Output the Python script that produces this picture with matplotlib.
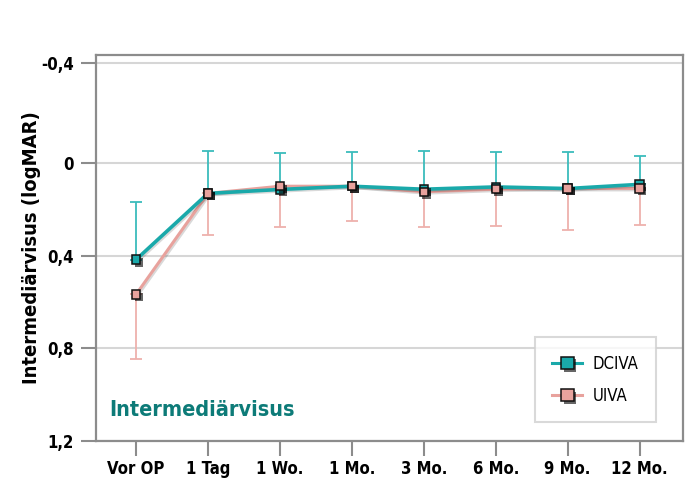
import matplotlib
matplotlib.use("Agg")
import matplotlib.pyplot as plt
import matplotlib.patheffects as pe
from matplotlib.lines import Line2D
import numpy as np

plt.rcParams['font.family'] = ['DejaVu Sans']
plt.rcParams['font.stretch'] = 'condensed'

# data (logMAR)
timepoints = ['Vor OP', '1 Tag', '1 Wo.', '1 Mo.', '3 Mo.', '6 Mo.', '9 Mo.', '12 Mo.']
dciva_mean = [0.417, 0.131, 0.114, 0.100, 0.113, 0.103, 0.110, 0.092]
dciva_sd = [0.250, 0.180, 0.156, 0.146, 0.162, 0.149, 0.156, 0.122]
uiva_mean = [0.567, 0.131, 0.100, 0.100, 0.124, 0.113, 0.110, 0.110]
uiva_sd = [0.277, 0.181, 0.176, 0.151, 0.154, 0.158, 0.179, 0.158]
yticks = [-0.4, 0, 0.4, 0.8, 1.2]
ytick_labels = ['-0,4', '0', '0,4', '0,8', '1,2']

teal = '#1aa9aa'
teal_err = '#3bbcbc'
pink = '#e8a29d'
pink_err = '#eeb1ad'
grey = '#8c8c8c'

x = np.arange(len(timepoints))
zeros = np.zeros(len(x))

fig = plt.figure(figsize=(6.91, 5.0), dpi=100)
ax = fig.add_axes([0.139, 0.118, 0.849, 0.772])

# the original axis spaces the negative part a little wider
k = 1.075
ax.set_yscale('function', functions=(lambda v: np.where(v < 0, v * k, v),
                                     lambda t: np.where(t < 0, t / k, t)))

# error bars: DCIVA upward, UIVA downward
ax.errorbar(x, dciva_mean, yerr=[dciva_sd, zeros], fmt='none', ecolor=teal_err,
            elinewidth=1.3, capsize=4.5, capthick=1.3, zorder=2)
ax.errorbar(x, uiva_mean, yerr=[zeros, uiva_sd], fmt='none', ecolor=pink_err,
            elinewidth=1.3, capsize=4.5, capthick=1.3, zorder=2)

line_shadow = [pe.SimpleLineShadow(offset=(1, -1), shadow_color='k', alpha=0.15), pe.Normal()]
mark_shadow = [pe.SimplePatchShadow(offset=(2, -2), shadow_rgbFace='k', alpha=0.6), pe.Normal()]

ax.plot(x, uiva_mean, color=pink, lw=2.2, zorder=3, path_effects=line_shadow)
ax.plot(x, dciva_mean, color=teal, lw=2.6, zorder=4, path_effects=line_shadow)
ax.plot(x, dciva_mean, ls='none', marker='s', ms=6, mfc=teal, mec='#111111', mew=1.1,
        zorder=5, path_effects=mark_shadow)
ax.plot(x, uiva_mean, ls='none', marker='s', ms=6, mfc=pink, mec='#111111', mew=1.1,
        zorder=6, path_effects=mark_shadow)

ax.set_xlim(-0.556, 7.6)
ax.set_ylim(1.2, -0.434)
ax.set_xticks(x)
ax.set_xticklabels(timepoints, fontsize=12, fontweight='bold')
ax.set_yticks(yticks)
ax.set_yticklabels(ytick_labels, fontsize=12, fontweight='bold')
ax.tick_params(axis='both', color=grey, width=1.5, length=11, pad=5)
ax.tick_params(axis='x', pad=3)

ax.grid(axis='y', color='#d6d6d6', lw=1.5)
ax.set_axisbelow(True)
for s in ax.spines.values():
    s.set_color(grey)
    s.set_linewidth(1.6)

ax.set_ylabel('Intermediärvisus (logMAR)', fontsize=14.5, fontweight='bold', labelpad=0)

ax.text(0.023, 0.08, 'Intermediärvisus', transform=ax.transAxes, fontsize=15.5,
        fontweight='bold', color='#0d7b78', va='center', ha='left')

handles = [
    Line2D([], [], color=teal, lw=2.2, marker='s', ms=9, mfc=teal, mec='#111111', mew=1.1,
           path_effects=mark_shadow),
    Line2D([], [], color=pink, lw=2.2, marker='s', ms=9, mfc=pink, mec='#111111', mew=1.1,
           path_effects=mark_shadow),
]
leg = ax.legend(handles, ['DCIVA', 'UIVA'], loc='lower right', bbox_to_anchor=(0.954, 0.048),
                borderaxespad=0, fontsize=12, frameon=True, fancybox=False, edgecolor='#d0d0d0',
                handlelength=1.8, borderpad=1.05, labelspacing=0.85, handletextpad=0.6)
leg.get_frame().set_linewidth(1.5)

fig.savefig('out.png', dpi=100)
